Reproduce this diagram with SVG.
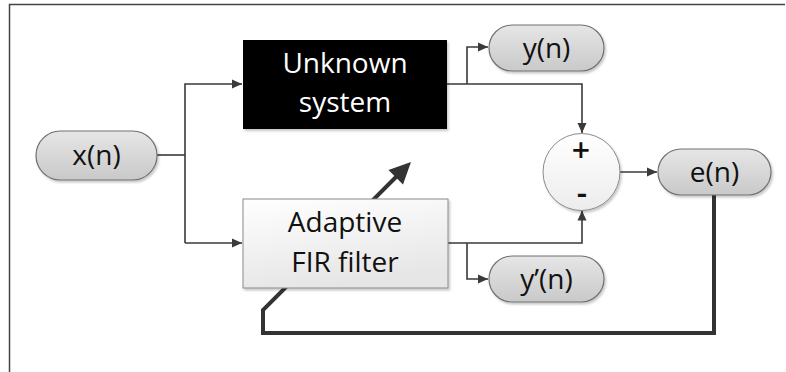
<svg xmlns="http://www.w3.org/2000/svg" width="786" height="372" viewBox="0 0 786 372">
<defs>
<linearGradient id="pillG" x1="0" y1="0" x2="0" y2="1">
<stop offset="0" stop-color="#e6e6e6"/>
<stop offset="1" stop-color="#c9c9c9"/>
</linearGradient>
<linearGradient id="boxG" x1="0" y1="0" x2="0.3" y2="1">
<stop offset="0" stop-color="#ffffff"/>
<stop offset="1" stop-color="#e6e6e6"/>
</linearGradient>
<linearGradient id="circG" x1="0" y1="0" x2="0" y2="1">
<stop offset="0" stop-color="#ffffff"/>
<stop offset="1" stop-color="#ececec"/>
</linearGradient>
<filter id="sh" x="-10%" y="-10%" width="130%" height="140%">
<feDropShadow dx="1.5" dy="2" stdDeviation="1.2" flood-color="#000" flood-opacity="0.22"/>
</filter>
<marker id="ah" viewBox="0 0 10 10" refX="10" refY="5" markerWidth="10" markerHeight="10" markerUnits="userSpaceOnUse" orient="auto">
<path d="M0,0.5 L10,5 L0,9.5 Z" fill="#3a3a3a"/>
</marker>
</defs>
<style>
.t{font-family:"Open Sans","Liberation Sans",sans-serif;font-size:28px;text-anchor:middle;fill:#111}
.w{fill:#ffffff}
.pill{fill:url(#pillG);stroke:#707070;stroke-width:1.2}
.ln{fill:none;stroke:#3a3a3a;stroke-width:1.6}
.fb{fill:none;stroke:#333;stroke-width:4;stroke-linejoin:miter}
.s{font-size:32px;font-weight:600}
</style>
<path d="M9.5,372 V4.5 H785" fill="none" stroke="#444" stroke-width="1.5"/>
<g id="connectors">
<path class="fb" d="M714,195 V333 H263 V310 L397,176"/>
<polygon points="411,162 388.5,170 403,184.5" fill="#333"/>
<path class="ln" d="M157,155 H185"/>
<path class="ln" d="M185,243 V84 H242" marker-end="url(#ah)"/>
<path class="ln" d="M185,243 H242" marker-end="url(#ah)"/>
<path class="ln" d="M447,84 H582 V133" marker-end="url(#ah)"/>
<path class="ln" d="M467,84 V47 H488" marker-end="url(#ah)"/>
<path class="ln" d="M448,243 H582 V210.5" marker-end="url(#ah)"/>
<path class="ln" d="M467,243 V279 H488" marker-end="url(#ah)"/>
<path class="ln" d="M620,172 H657" marker-end="url(#ah)"/>
</g>
<g id="xn">
<rect class="pill" x="36" y="131" width="121" height="49" rx="24.5" filter="url(#sh)"/>
<text class="t" x="96.5" y="165">x(n)</text>
</g>
<g id="unknown">
<rect x="243" y="40" width="204" height="89" fill="#000" filter="url(#sh)"/>
<text class="t w" x="345" y="73">Unknown</text>
<text class="t w" x="345" y="112">system</text>
</g>
<g id="adaptive">
<rect x="243" y="199" width="205" height="89" fill="url(#boxG)" stroke="#8a8a8a" stroke-width="1" filter="url(#sh)"/>
<text class="t" x="345" y="232">Adaptive</text>
<text class="t" x="345" y="272">FIR filter</text>
</g>
<g id="yn">
<rect class="pill" x="489" y="25" width="115" height="46" rx="23" filter="url(#sh)"/>
<text class="t" x="546.5" y="58">y(n)</text>
</g>
<g id="ypn">
<rect class="pill" x="489" y="256" width="115" height="46" rx="23" filter="url(#sh)"/>
<text class="t" x="546.5" y="289">y’(n)</text>
</g>
<g id="sum">
<circle cx="581.5" cy="172" r="38.5" fill="url(#circG)" stroke="#8a8a8a" stroke-width="1" filter="url(#sh)"/>
<text class="t s" x="581" y="162">+</text>
<text class="t s" x="582" y="204">-</text>
</g>
<g id="en">
<rect class="pill" x="658" y="149" width="113" height="46" rx="23" filter="url(#sh)"/>
<text class="t" x="714.5" y="182">e(n)</text>
</g>
</svg>
